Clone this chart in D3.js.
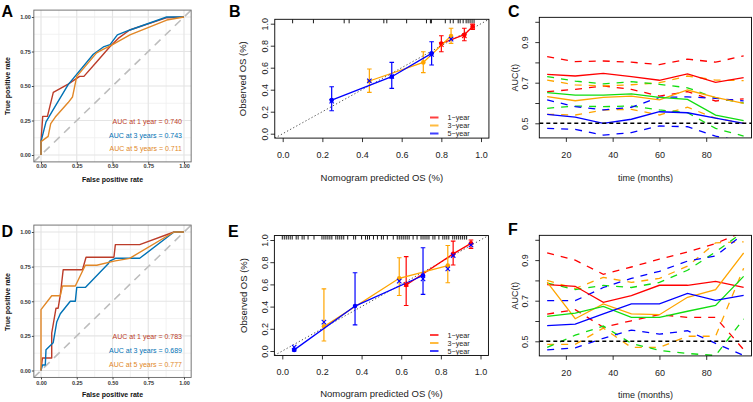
<!DOCTYPE html>
<html><head><meta charset="utf-8">
<script src="https://cdn.jsdelivr.net/npm/d3@7"></script>
<style>body{margin:0;background:#fff}svg{display:block}</style>
</head><body>
<svg id="c" width="753" height="402"></svg>
<script>
// ---------------- DATA ----------------
// ROC curves (FPR, TPR) — panel A (training) and D (validation)
const rocA_1y = [[0,0],[0,0.1],[0.012,0.28],[0.045,0.28],[0.086,0.454],[0.19,0.514],[0.27,0.57],[0.30,0.57],[0.39,0.676],[0.48,0.783],[0.54,0.845],[0.62,0.906],[0.88,0.995],[1,1]];
const rocA_3y = [[0,0],[0,0.097],[0.035,0.24],[0.075,0.31],[0.19,0.51],[0.366,0.73],[0.436,0.783],[0.483,0.80],[0.534,0.87],[0.622,0.906],[0.879,1],[1,1]];
const rocA_5y = [[0,0],[0,0.097],[0.05,0.135],[0.068,0.227],[0.1,0.275],[0.19,0.38],[0.22,0.42],[0.25,0.57],[0.389,0.74],[0.424,0.76],[0.494,0.797],[0.622,0.87],[0.879,0.978],[1,1]];
const rocD_1y = [[0,0],[0.01,0.09],[0.075,0.09],[0.075,0.27],[0.09,0.36],[0.105,0.45],[0.12,0.45],[0.135,0.545],[0.155,0.727],[0.29,0.727],[0.315,0.818],[0.51,0.818],[0.52,0.909],[0.69,0.909],[0.93,1],[1,1]];
const rocD_3y = [[0,0],[0.01,0.04],[0.03,0.04],[0.035,0.15],[0.085,0.2],[0.11,0.35],[0.135,0.41],[0.205,0.5],[0.24,0.5],[0.25,0.6],[0.31,0.6],[0.47,0.77],[0.48,0.79],[0.52,0.81],[0.69,0.81],[0.93,1],[1,1]];
const rocD_5y = [[0,0],[0,0.44],[0.075,0.54],[0.135,0.54],[0.15,0.61],[0.24,0.61],[0.31,0.76],[0.39,0.76],[0.51,0.79],[0.62,0.81],[0.93,1],[1,1]];
const aucLabelsA = ["AUC at 1 year = 0.740","AUC at 3 years = 0.743","AUC at 5 years = 0.711"];
const aucLabelsD = ["AUC at 1 year = 0.783","AUC at 3 years = 0.689","AUC at 5 years = 0.777"];
const rocTicks = [0,0.25,0.5,0.75,1];

// Calibration: p = predicted, o = observed, lo/hi = error bar
const calB_1y = [{p:0.80,o:0.82,lo:0.745,hi:0.89},{p:0.916,o:0.90,lo:0.845,hi:0.958},{p:0.958,o:0.975,lo:0.948,hi:0.997}];
const calB_3y = [{p:0.437,o:0.479,lo:0.376,hi:0.588},{p:0.709,o:0.648,lo:0.555,hi:0.745},{p:0.849,o:0.888,lo:0.821,hi:0.958}];
const calB_5y = [{p:0.247,o:0.306,lo:0.209,hi:0.427},{p:0.55,o:0.518,lo:0.412,hi:0.648},{p:0.751,o:0.73,lo:0.624,hi:0.836}];
const xMarksB = [{p:0.247,v:0.295,s:2},{p:0.437,v:0.48,s:2},{p:0.55,v:0.52,s:2},{p:0.751,v:0.72,s:2},{p:0.80,v:0.81,s:0},{p:0.849,v:0.86,s:2},{p:0.916,v:0.89,s:0},{p:0.958,v:0.975,s:0}];
const rugB = [0.05,0.155,0.31,0.335,0.51,0.525,0.625,0.725,0.745,0.75,0.82,0.845,0.86,0.885,0.895,0.91,0.925,0.935,0.945,0.955,0.965];
const calE_1y = [{p:0.625,o:0.595,lo:0.41,hi:0.85},{p:0.862,o:0.875,lo:0.775,hi:0.99},{p:0.952,o:0.97,lo:0.925,hi:1.0}];
const calE_3y = [{p:0.21,o:0.22,lo:0.09,hi:0.56},{p:0.59,o:0.655,lo:0.50,hi:0.84},{p:0.835,o:0.77,lo:0.615,hi:0.95}];
const calE_5y = [{p:0.06,o:0.01,lo:0.0,hi:0.02},{p:0.367,o:0.405,lo:0.235,hi:0.705},{p:0.71,o:0.68,lo:0.51,hi:0.93}];
const xMarksE = [{p:0.06,v:0.035,s:2},{p:0.21,v:0.26,s:2},{p:0.59,v:0.63,s:2},{p:0.625,v:0.60,s:0},{p:0.71,v:0.65,s:2},{p:0.835,v:0.74,s:2},{p:0.862,v:0.86,s:2},{p:0.952,v:0.955,s:2}];
const rugE = [0.00,0.01,0.02,0.03,0.04,0.05,0.07,0.08,0.10,0.11,0.13,0.16,0.20,0.21,0.22,0.23,0.24,0.25,0.27,0.28,0.29,0.30,0.31,0.33,0.36,0.37,0.40,0.42,0.43,0.44,0.46,0.48,0.50,0.51,0.53,0.56,0.58,0.59,0.60,0.61,0.62,0.63,0.64,0.66,0.68,0.70,0.71,0.72,0.73,0.74,0.76,0.77,0.79,0.81,0.82,0.83,0.84,0.86,0.87,0.88,0.89,0.90,0.91,0.92,0.93];
const calLegend = ["1\u2212year","3\u2212year","5\u2212year"];
const calTicks = [0,0.2,0.4,0.6,0.8,1.0];

// Time-dependent AUC (months)
const months = [12,24,36,48,60,72,84,96];
const aucC_red = [0.741,0.733,0.746,0.730,0.712,0.743,0.702,0.725];
const aucC_red_up = [0.828,0.804,0.807,0.801,0.789,0.816,0.801,0.832];
const aucC_red_lo = [0.656,0.667,0.684,0.667,0.634,0.656,0.610,0.620];
const aucC_orange = [0.631,0.611,0.628,0.634,0.615,0.664,0.628,0.598];
const aucC_orange_up = [0.713,0.689,0.684,0.690,0.700,0.733,0.713,0.710];
const aucC_orange_lo = [0.544,0.541,0.565,0.569,0.541,0.579,0.525,0.500];
const aucC_green = [0.651,0.639,0.639,0.645,0.628,0.618,0.540,0.513];
const aucC_green_up = [0.730,0.708,0.694,0.705,0.692,0.675,0.625,0.600];
const aucC_green_lo = [0.574,0.585,0.582,0.585,0.566,0.552,0.475,0.437];
const aucC_blue = [0.544,0.530,0.500,0.520,0.557,0.552,0.525,0.500];
const aucC_blue_up = [0.615,0.582,0.566,0.579,0.628,0.630,0.623,0.610];
const aucC_blue_lo = [0.475,0.470,0.442,0.454,0.487,0.483,0.437,0.410];
const aucF_red = [0.779,0.771,0.692,0.725,0.776,0.776,0.795,0.766];
const aucF_red_up = [0.936,0.900,0.830,0.866,0.905,0.940,0.982,1.040];
const aucF_red_lo = [0.634,0.656,0.569,0.601,0.631,0.618,0.618,0.459];
const aucF_orange = [0.792,0.611,0.684,0.635,0.631,0.717,0.754,0.935];
const aucF_orange_up = [0.800,0.760,0.815,0.790,0.810,0.870,0.985,0.990];
const aucF_orange_lo = [0.485,0.485,0.565,0.470,0.470,0.525,0.525,0.860];
const aucF_green = [0.623,0.639,0.672,0.618,0.618,0.648,0.677,0.820];
const aucF_green_up = [0.787,0.755,0.775,0.765,0.790,0.850,0.940,1.040];
const aucF_green_lo = [0.470,0.530,0.575,0.490,0.455,0.440,0.430,0.610];
const aucF_blue = [0.577,0.585,0.635,0.684,0.684,0.736,0.702,0.726];
const aucF_blue_up = [0.700,0.700,0.765,0.810,0.845,0.895,0.920,1.030];
const aucF_blue_lo = [0.458,0.468,0.515,0.555,0.535,0.552,0.490,0.430];
const aucXTicks = [20,40,60,80];
const aucYTicks = [0.5,0.6,0.7,0.8,0.9,1.0];
const aucYLabels = [0.5,0.7,0.9];

// ---------------- DRAWING ----------------
const FONT = "'Liberation Sans', Arial, Helvetica, sans-serif";
const nejm = ["#BC3C29","#0072B5","#E18727"];
const rcol = ["#FF0000","#FFA500","#0000FF"];
const rcol4 = {red:"#FF0000",orange:"#FFA500",green:"#11DD11",blue:"#0000FF"};
const svg = d3.select("#c").attr("font-family", FONT);

function clip(id,x,y,w,h){
  svg.append("clipPath").attr("id",id).append("rect").attr("x",x).attr("y",y).attr("width",w).attr("height",h);
  return `url(#${id})`;
}
function txt(x,y,s,opt={}){
  const t = svg.append("text").attr("x",x).attr("y",y).text(s)
    .attr("font-size",opt.size||9).attr("fill",opt.fill||"#222")
    .attr("font-weight",opt.weight||"normal").attr("text-anchor",opt.anchor||"start");
  if(opt.rot) t.attr("transform",`rotate(-90,${x},${y})`);
  return t;
}

// ---- ROC panel (ggplot style) ----
function rocPanel(id, y0px, y1px, curves, labels, labelYs, xLabY, xTitleY, yTitleCY){
  const x = d3.scaleLinear([0,1],[41,184]);
  const y = d3.scaleLinear([0,1],[y0px,y1px]);
  const L=x(-0.05),R=x(1.05),T=y(1.05),B=y(-0.05);
  const g = svg.append("g");
  g.append("rect").attr("x",L).attr("y",T).attr("width",R-L).attr("height",B-T).attr("fill","#fff");
  const pg = g.append("g").attr("clip-path",clip(id,L,T,R-L,B-T));
  const minor=[0.125,0.375,0.625,0.875];
  minor.forEach(v=>{
    pg.append("line").attr("x1",L).attr("x2",R).attr("y1",y(v)).attr("y2",y(v)).attr("stroke","#efefef").attr("stroke-width",0.8);
    pg.append("line").attr("y1",T).attr("y2",B).attr("x1",x(v)).attr("x2",x(v)).attr("stroke","#efefef").attr("stroke-width",0.8);
  });
  rocTicks.forEach(v=>{
    pg.append("line").attr("x1",L).attr("x2",R).attr("y1",y(v)).attr("y2",y(v)).attr("stroke","#e4e4e4").attr("stroke-width",1.2);
    pg.append("line").attr("y1",T).attr("y2",B).attr("x1",x(v)).attr("x2",x(v)).attr("stroke","#e4e4e4").attr("stroke-width",1.2);
  });
  pg.append("line").attr("x1",x(-0.05)).attr("y1",y(-0.05)).attr("x2",x(1.05)).attr("y2",y(1.05))
    .attr("stroke","#bdbdbd").attr("stroke-width",1.6).attr("stroke-dasharray","8,6");
  const line = d3.line().x(d=>x(d[0])).y(d=>y(d[1]));
  curves.forEach((c,i)=>{
    pg.append("path").attr("d",line(c)).attr("fill","none").attr("stroke",nejm[i]).attr("stroke-width",1.4).attr("stroke-linejoin","round");
  });
  labels.forEach((s,i)=>txt(182,labelYs[i],s,{size:7,fill:nejm[i],anchor:"end"}));
  g.append("rect").attr("x",L).attr("y",T).attr("width",R-L).attr("height",B-T).attr("fill","none").attr("stroke","#666").attr("stroke-width",0.9);
  const fmt = d3.format(".2f");
  const ax = g.append("g").attr("transform",`translate(0,${B})`).call(d3.axisBottom(x).tickValues(rocTicks).tickFormat(fmt).tickSize(2).tickSizeOuter(0));
  ax.select(".domain").remove();
  ax.selectAll("line").attr("stroke","#444");
  ax.selectAll("text").attr("y",xLabY-B).attr("dy",0).attr("font-size",5.5).attr("font-weight","bold").attr("fill","#333").attr("font-family",FONT);
  const ay = g.append("g").attr("transform",`translate(${L},0)`).call(d3.axisLeft(y).tickValues(rocTicks).tickFormat(fmt).tickSize(2).tickSizeOuter(0));
  ay.select(".domain").remove();
  ay.selectAll("line").attr("stroke","#444");
  ay.selectAll("text").attr("x",-3).attr("dy","0.35em").attr("font-size",5.5).attr("font-weight","bold").attr("fill","#333").attr("font-family",FONT);
  txt((L+R)/2, xTitleY, "False positive rate",{size:7,weight:"bold",anchor:"middle",fill:"#111"});
  txt(9.5, yTitleCY, "True positive rate",{size:7,weight:"bold",anchor:"middle",fill:"#111",rot:true});
}

// ---- Calibration panel (base R style) ----
function calPanel(id, xr, yr, series, xMarks, rug, legendYs, opts){
  const x = d3.scaleLinear([0,1],xr);
  const y = d3.scaleLinear([0,1],yr);
  const L=x(-0.04),R=x(1.04),T=y(1.04),B=y(-0.04);
  const g = svg.append("g");
  const pg = g.append("g").attr("clip-path",clip(id,L,T,R-L,B-T));
  pg.append("line").attr("x1",L).attr("y1",y(-0.04)).attr("x2",R).attr("y2",y(1.04))
    .attr("stroke","#555").attr("stroke-width",1).attr("stroke-dasharray","1.3,2.2");
  rug.forEach(v=>pg.append("line").attr("x1",x(v)).attr("x2",x(v)).attr("y1",T).attr("y2",T+4).attr("stroke","#000").attr("stroke-width",0.9));
  const line = d3.line().x(d=>x(d.p)).y(d=>y(d.o));
  series.forEach((s,i)=>{
    const c = rcol[i];
    pg.append("path").attr("d",line(s)).attr("fill","none").attr("stroke",c).attr("stroke-width",1.3);
    s.forEach(d=>{
      pg.append("line").attr("x1",x(d.p)).attr("x2",x(d.p)).attr("y1",y(d.lo)).attr("y2",y(d.hi)).attr("stroke",c).attr("stroke-width",1.2);
      [d.lo,d.hi].forEach(v=>pg.append("line").attr("x1",x(d.p)-2.3).attr("x2",x(d.p)+2.3).attr("y1",y(v)).attr("y2",y(v)).attr("stroke",c).attr("stroke-width",1.1));
      pg.append("circle").attr("cx",x(d.p)).attr("cy",y(d.o)).attr("r",2.3).attr("fill",c);
    });
  });
  xMarks.forEach(m=>{
    const cx=x(m.p), cy=y(m.v), r=2.2, c=rcol[m.s];
    pg.append("line").attr("x1",cx-r).attr("x2",cx+r).attr("y1",cy-r).attr("y2",cy+r).attr("stroke",c).attr("stroke-width",1.1);
    pg.append("line").attr("x1",cx-r).attr("x2",cx+r).attr("y1",cy+r).attr("y2",cy-r).attr("stroke",c).attr("stroke-width",1.1);
  });
  // legend
  calLegend.forEach((s,i)=>{
    g.append("line").attr("x1",430).attr("x2",438.5).attr("y1",legendYs[i]).attr("y2",legendYs[i]).attr("stroke",rcol[i]).attr("stroke-width",2).attr("opacity",0.75);
    txt(447.5, legendYs[i]+2.6, s, {size:7.2});
  });
  g.append("rect").attr("x",L).attr("y",T).attr("width",R-L).attr("height",B-T).attr("fill","none").attr("stroke","#000").attr("stroke-width",0.9);
  const fmt = d3.format(".1f");
  const ax = g.append("g").attr("transform",`translate(0,${B})`).call(d3.axisBottom(x).tickValues(calTicks).tickFormat(fmt).tickSize(4).tickSizeOuter(0));
  ax.select(".domain").remove();
  ax.selectAll("line").attr("stroke","#000").attr("stroke-width",0.8);
  ax.selectAll("text").attr("y",20).attr("dy",0).attr("font-size",9).attr("fill","#222").attr("font-family",FONT);
  const ay = g.append("g").attr("transform",`translate(${L},0)`).call(d3.axisLeft(y).tickValues(calTicks).tickFormat(fmt).tickSize(4).tickSizeOuter(0));
  ay.select(".domain").remove();
  ay.selectAll("line").attr("stroke","#000").attr("stroke-width",0.8);
  ay.selectAll("text").attr("x",0).attr("y",0).attr("dy",0).attr("text-anchor","middle")
    .attr("transform","translate(-6.6,0) rotate(-90)").attr("font-size",9).attr("fill","#222").attr("font-family",FONT);
  txt((L+R)/2, opts.xTitleY, "Nomogram predicted OS (%)", {size:9.5,anchor:"middle"});
  txt(246.5, (T+B)/2, "Observed OS (%)", {size:9.5,anchor:"middle",rot:true});
}

// ---- Time-dependent AUC panel ----
function aucPanel(id, off, sets, opts){
  const x = d3.scaleLinear([8.64,99.36],[539.3,751.5]);
  const y = d3.scaleLinear([0.5,1.0],[123.3+off,21.8+off]);
  const L=x(8.64),R=x(99.36),T=y(1.022),B=y(0.428);
  const g = svg.append("g");
  const pg = g.append("g").attr("clip-path",clip(id,L,T,R-L,B-T));
  const line = d3.line().x((d,i)=>x(months[i])).y(d=>y(d));
  sets.forEach(s=>{
    [s.up,s.lo].forEach(arr=>pg.append("path").attr("d",line(arr)).attr("fill","none").attr("stroke",s.color).attr("stroke-width",1.3).attr("stroke-dasharray","7,7"));
  });
  sets.forEach(s=>pg.append("path").attr("d",line(s.auc)).attr("fill","none").attr("stroke",s.color).attr("stroke-width",1.3));
  pg.append("line").attr("x1",L).attr("x2",R).attr("y1",y(0.5)).attr("y2",y(0.5)).attr("stroke","#000").attr("stroke-width",1.4).attr("stroke-dasharray","4,3");
  g.append("rect").attr("x",L).attr("y",T).attr("width",R-L).attr("height",B-T).attr("fill","none").attr("stroke","#000").attr("stroke-width",0.9);
  const ax = g.append("g").attr("transform",`translate(0,${B})`).call(d3.axisBottom(x).tickValues(aucXTicks).tickFormat(d3.format("d")).tickSize(4).tickSizeOuter(0));
  ax.select(".domain").remove();
  ax.selectAll("line").attr("stroke","#000").attr("stroke-width",0.8);
  ax.selectAll("text").attr("y",20.3).attr("dy",0).attr("font-size",9).attr("fill","#222").attr("font-family",FONT);
  const ay = g.append("g").attr("transform",`translate(${L},0)`).call(d3.axisLeft(y).tickValues(aucYTicks)
    .tickFormat(d=>aucYLabels.some(v=>Math.abs(v-d)<1e-9)?d3.format(".1f")(d):"").tickSize(4).tickSizeOuter(0));
  ay.select(".domain").remove();
  ay.selectAll("line").attr("stroke","#000").attr("stroke-width",0.8);
  ay.selectAll("text").attr("x",0).attr("y",0).attr("dy",0).attr("text-anchor","middle")
    .attr("transform","translate(-11,0) rotate(-90)").attr("font-size",9).attr("fill","#222").attr("font-family",FONT);
  txt((L+R)/2, opts.xTitleY, "time (months)", {size:9,anchor:"middle"});
  txt(518.3, (T+B)/2, "AUC(t)", {size:9,anchor:"middle",rot:true});
}

// ---------------- PANELS ----------------
rocPanel("clipA",155,17,[rocA_1y,rocA_3y,rocA_5y],aucLabelsA,[123.5,137.5,150.5],168,181.5,86);
rocPanel("clipD",370.5,232,[rocD_1y,rocD_3y,rocD_5y],aucLabelsD,[338.5,352.5,366.5],385.5,397,302);

calPanel("clipB",[282.7,481],[133.7,23.7],[calB_1y,calB_3y,calB_5y],xMarksB,rugB,[117.5,125.5,133.5],{xTitleY:181});
calPanel("clipE",[282.3,480.5],[351,240],[calE_1y,calE_3y,calE_5y],xMarksE,rugE,[335,343,351],{xTitleY:396.5});

aucPanel("clipC",0,[
  {color:rcol4.red,auc:aucC_red,up:aucC_red_up,lo:aucC_red_lo},
  {color:rcol4.orange,auc:aucC_orange,up:aucC_orange_up,lo:aucC_orange_lo},
  {color:rcol4.green,auc:aucC_green,up:aucC_green_up,lo:aucC_green_lo},
  {color:rcol4.blue,auc:aucC_blue,up:aucC_blue_up,lo:aucC_blue_lo}],{xTitleY:181});
aucPanel("clipF",218,[
  {color:rcol4.red,auc:aucF_red,up:aucF_red_up,lo:aucF_red_lo},
  {color:rcol4.orange,auc:aucF_orange,up:aucF_orange_up,lo:aucF_orange_lo},
  {color:rcol4.green,auc:aucF_green,up:aucF_green_up,lo:aucF_green_lo},
  {color:rcol4.blue,auc:aucF_blue,up:aucF_blue_up,lo:aucF_blue_lo}],{xTitleY:398});

// panel letters
[["A",1.5,16.7],["B",229,17],["C",508,17],["D",1.5,236.7],["E",228,236.7],["F",508,235]].forEach(d=>
  txt(d[1],d[2],d[0],{size:16,weight:"bold",fill:"#000"}));
</script>
</body></html>
